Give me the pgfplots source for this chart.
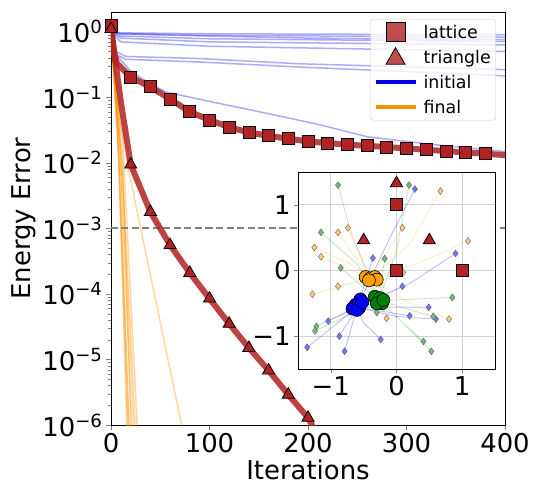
\documentclass[border=0pt]{standalone}
\usepackage{fontspec}
\setmainfont{DejaVu Sans}
\usepackage{pgfplots}
\pgfplotsset{compat=1.18}
\usetikzlibrary{calc}

\definecolor{latred}{RGB}{178,34,34}
\definecolor{ini}{RGB}{0,0,235}
\definecolor{fin}{RGB}{245,145,0}
\definecolor{icol}{RGB}{0,0,255}
\definecolor{gcol}{RGB}{0,128,0}
\definecolor{ocol}{RGB}{255,160,0}

\begin{document}
\begin{tikzpicture}
\begin{axis}[name=main, scale only axis, width=394bp, height=413bp,
  ymode=log, xmin=0, xmax=400, ymin=1e-6, ymax=2,
  xtick={0,100,200,300,400}, xticklabels={0,100,200,300,400},
  ytick={1e-6,1e-5,1e-4,1e-3,1e-2,1e-1,1},
  yticklabels={10\textsuperscript{−6},10\textsuperscript{−5},10\textsuperscript{−4},10\textsuperscript{−3},10\textsuperscript{−2},10\textsuperscript{−1},10\textsuperscript{0}},
  tick pos=left, tick align=outside, major tick length=5bp, minor tick length=3bp,
  xlabel={Iterations}, ylabel={Energy Error},
  label style={font=\fontsize{26}{30}\selectfont},
  tick label style={font=\fontsize{26}{30}\selectfont},
  legend cell align=left,
  legend style={at={(0.977,0.983)}, anchor=north east, draw=black!20, rounded corners=3bp,
    fill=white, fill opacity=0.8, draw opacity=1, text opacity=1,
    font=\fontsize{17.5}{20}\selectfont, row sep=5bp, inner xsep=3bp, inner ysep=3bp}]

% initial trajectories (blue)
\addplot[ini, opacity=0.33, line width=1.5bp, forget plot] coordinates {(0,1)(10,0.96)(100,0.93)(400,0.9)};
\addplot[ini, opacity=0.33, line width=1.5bp, forget plot] coordinates {(0,1)(10,0.94)(100,0.88)(400,0.83)};
\addplot[ini, opacity=0.33, line width=1.5bp, forget plot] coordinates {(0,1)(10,0.92)(100,0.86)(200,0.8)(400,0.76)};
\addplot[ini, opacity=0.33, line width=1.5bp, forget plot] coordinates {(0,1)(10,0.86)(100,0.78)(400,0.71)};
\addplot[ini, opacity=0.33, line width=1.5bp, forget plot] coordinates {(0,1)(10,0.8)(100,0.7)(400,0.63)};
\addplot[ini, opacity=0.33, line width=1.5bp, forget plot] coordinates {(0,1)(10,0.7)(100,0.6)(400,0.5)};
\addplot[ini, opacity=0.33, line width=1.5bp, forget plot] coordinates {(0,1)(5,0.5)(15,0.42)(90,0.39)(190,0.325)(400,0.264)};
\addplot[ini, opacity=0.33, line width=1.5bp, forget plot] coordinates {(0,1)(5,0.45)(15,0.38)(90,0.345)(190,0.29)(400,0.212)};
\addplot[ini, opacity=0.33, line width=1.5bp, forget plot] coordinates {(0,1)(5,0.45)(20,0.25)(40,0.16)(56,0.12)(90,0.093)(158,0.057)(209,0.039)(260,0.025)(327,0.019)(400,0.0149)};

% final trajectories (orange)
\addplot[fin, opacity=0.35, line width=1.5bp, forget plot] coordinates {(0,1)(8,1e-2)(18,1e-7)};
\addplot[fin, opacity=0.35, line width=1.5bp, forget plot] coordinates {(0,1)(10,5e-3)(20,1e-7)};
\addplot[fin, opacity=0.35, line width=1.5bp, forget plot] coordinates {(0,1)(12,1e-2)(22,1e-7)};
\addplot[fin, opacity=0.35, line width=1.5bp, forget plot] coordinates {(0,1)(9,2e-2)(24,1e-7)};
\addplot[fin, opacity=0.35, line width=1.5bp, forget plot] coordinates {(0,1)(11,1e-2)(26,1e-7)};
\addplot[fin, opacity=0.35, line width=1.5bp, forget plot] coordinates {(0,1)(13,3e-3)(28,1e-7)};
\addplot[fin, opacity=0.35, line width=1.5bp, forget plot] coordinates {(0,1)(7,3e-2)(19,1e-7)};
\addplot[fin, opacity=0.35, line width=1.5bp, forget plot] coordinates {(0,1)(12,2e-2)(30,1e-7)};
\addplot[fin, opacity=0.35, line width=1.5bp, forget plot] coordinates {(0,1)(6,5e-2)(21,1e-7)};
\addplot[fin, opacity=0.35, line width=1.5bp, forget plot] coordinates {(0,1)(5,0.1)(18,7.5e-3)(80,2.5e-7)};

% threshold
\addplot[black!50, dash pattern=on 7bp off 3.5bp, line width=1.8bp, forget plot] coordinates {(0,1e-3)(400,1e-3)};

% lattice
\addplot[latred, opacity=0.85, line width=6bp, forget plot] coordinates {(0,1.26)(3,0.5)(6,0.33)(20,0.204)(40,0.144)(60,0.094)(80,0.060)(100,0.045)(120,0.035)(140,0.029)(160,0.0258)(180,0.0233)(200,0.0212)(220,0.020)(240,0.0189)(260,0.0182)(280,0.0174)(300,0.0166)(320,0.0158)(340,0.0151)(360,0.0144)(380,0.0138)(400,0.0131)};
\addplot[only marks, mark=square*, mark size=6bp, mark options={fill=latred, draw=black, line width=0.8bp}, forget plot] coordinates {(0,1.26)(20,0.204)(40,0.144)(60,0.094)(80,0.060)(100,0.045)(120,0.035)(140,0.029)(160,0.0258)(180,0.0233)(200,0.0212)(220,0.020)(240,0.0189)(260,0.0182)(280,0.0174)(300,0.0166)(320,0.0158)(340,0.0151)(360,0.0144)(380,0.0138)};

% triangle
\addplot[latred, opacity=0.85, line width=6bp, forget plot] coordinates {(0,1.1)(10,0.085)(20,0.0094)(40,0.00178)(60,5.56e-4)(80,2.09e-4)(100,8.5e-5)(120,3.5e-5)(140,1.5e-5)(160,6.8e-6)(180,2.9e-6)(200,1.29e-6)(215,5e-7)};
\addplot[only marks, mark=triangle*, mark size=7bp, mark options={fill=latred, draw=black, line width=0.8bp}, forget plot] coordinates {(0,1.1)(20,0.0094)(40,0.00178)(60,5.56e-4)(80,2.09e-4)(100,8.5e-5)(120,3.5e-5)(140,1.5e-5)(160,6.8e-6)(180,2.9e-6)(200,1.29e-6)};

\addlegendimage{legend image code/.code={\path[draw=none, fill=none] (0bp,-10bp) rectangle (46bp,10bp); \draw[only marks, mark=square*, mark size=9.5bp, mark options={fill=latred, draw=black, line width=0.8bp}] plot coordinates {(20bp,0bp)};}}
\addlegendentry{lattice}
\addlegendimage{legend image code/.code={\path[draw=none, fill=none] (0bp,-10bp) rectangle (46bp,10bp); \draw[only marks, mark=triangle*, mark size=11bp, mark options={fill=latred, draw=black, line width=0.8bp}] plot coordinates {(20bp,-1.5bp)};}}
\addlegendentry{triangle}
\addlegendimage{legend image code/.code={\path[draw=none, fill=none] (0bp,-10bp) rectangle (46bp,10bp); \draw[ini, line width=4bp] (0bp,0bp) -- (40bp,0bp);}}
\addlegendentry{initial}
\addlegendimage{legend image code/.code={\path[draw=none, fill=none] (0bp,-10bp) rectangle (46bp,10bp); \draw[fin, line width=4bp] (0bp,0bp) -- (40bp,0bp);}}
\addlegendentry{final}
\end{axis}

\begin{axis}[at={($(main.south west)+(187bp,56bp)$)}, anchor=south west,
  scale only axis, width=197bp, height=197bp,
  xmin=-1.5, xmax=1.5, ymin=-1.5, ymax=1.5,
  xtick={-1,0,1}, ytick={-1,0,1},
  xticklabels={−1,0,1}, yticklabels={−1,0,1},
  grid=major, grid style={black!18, line width=0.8bp},
  axis background/.style={fill=white},
  tick pos=left, tick align=outside, major tick length=4bp,
  tick label style={font=\fontsize{26}{30}\selectfont},
  unbounded coords=jump]

% trajectories
\addplot[icol, opacity=0.28, line width=0.8bp] coordinates {(0.28,1.24)(-0.1,0.5)(-0.6,-0.56)(nan,nan)(-0.36,0.19)(-0.6,-0.56)(nan,nan)(0.90,0.26)(0.2,-0.2)(-0.6,-0.56)(nan,nan)(0.09,-0.24)(-0.6,-0.56)(nan,nan)(0.49,-0.56)(-0.6,-0.56)(nan,nan)(0.20,-0.69)(-0.6,-0.56)(nan,nan)(0.60,-0.74)(0,-0.7)(-0.6,-0.56)(nan,nan)(-1.04,-0.77)(-0.6,-0.56)(nan,nan)(-0.87,-1.0)(-0.6,-0.56)(nan,nan)(-0.24,-1.05)(-0.5,-0.8)(-0.6,-0.56)(nan,nan)(-1.36,-1.17)(-0.9,-0.8)(-0.6,-0.56)(nan,nan)(-0.79,-1.23)(-0.6,-0.56)};
\addplot[gcol, opacity=0.22, line width=0.8bp] coordinates {(-0.89,1.30)(-0.7,0.6)(-0.27,-0.46)(nan,nan)(0.19,1.30)(0,0.3)(-0.27,-0.46)(nan,nan)(-1.15,0.58)(-0.6,0.1)(-0.27,-0.46)(nan,nan)(-0.85,0.04)(-0.27,-0.46)(nan,nan)(-0.18,0.18)(-0.27,-0.46)(nan,nan)(0.85,-0.41)(-0.27,-0.46)(nan,nan)(0.56,-0.70)(-0.27,-0.46)(nan,nan)(-0.30,-0.64)(-0.27,-0.46)(nan,nan)(-1.22,-0.85)(-0.7,-0.6)(-0.27,-0.46)(nan,nan)(-1.24,-0.92)(-0.27,-0.46)(nan,nan)(0.41,-1.08)(-0.27,-0.46)(nan,nan)(0.53,-1.23)(0.1,-0.8)(-0.27,-0.46)};
\addplot[ocol, opacity=0.22, line width=0.8bp] coordinates {(0.67,1.21)(0.2,0.4)(-0.4,-0.12)(nan,nan)(-0.74,0.65)(-0.4,-0.12)(nan,nan)(-0.89,0.58)(-0.4,-0.12)(nan,nan)(0.09,0.65)(-0.4,-0.12)(nan,nan)(-1.25,0.35)(-0.7,0.1)(-0.4,-0.12)(nan,nan)(-1.15,0.21)(-0.4,-0.12)(nan,nan)(1.09,0.45)(0.3,0.1)(-0.4,-0.12)(nan,nan)(-0.89,-0.24)(-0.4,-0.12)(nan,nan)(-1.28,-0.36)(-0.4,-0.12)(nan,nan)(-0.15,-0.73)(-0.4,-0.12)(nan,nan)(0.80,-0.74)(0.2,-0.5)(-0.4,-0.12)(nan,nan)(0.10,-0.03)(-0.4,-0.12)};

% initial positions
\addplot[only marks, mark=diamond*, mark size=3.5bp, mark options={fill=icol!55, draw=black!60, line width=0.4bp}] coordinates {(0.28,1.24)(-0.36,0.19)(0.90,0.26)(0.09,-0.24)(0.49,-0.56)(0.20,-0.69)(0.60,-0.74)(-1.04,-0.77)(-0.87,-1.0)(-0.24,-1.05)(-1.36,-1.17)(-0.79,-1.23)};
\addplot[only marks, mark=diamond*, mark size=3.5bp, mark options={fill=gcol!55, draw=black!60, line width=0.4bp}] coordinates {(-0.89,1.30)(0.19,1.30)(-1.15,0.58)(-0.85,0.04)(-0.18,0.18)(0.85,-0.41)(0.56,-0.70)(-0.30,-0.64)(-1.22,-0.85)(-1.24,-0.92)(0.41,-1.08)(0.53,-1.23)};
\addplot[only marks, mark=diamond*, mark size=3.5bp, mark options={fill=ocol!55, draw=black!60, line width=0.4bp}] coordinates {(0.67,1.21)(-0.74,0.65)(-0.89,0.58)(0.09,0.65)(-1.25,0.35)(-1.15,0.21)(1.09,0.45)(-0.89,-0.24)(-1.28,-0.36)(-0.15,-0.73)(0.80,-0.74)(0.10,-0.03)};

% lattice sites
\addplot[only marks, mark=square*, mark size=6bp, mark options={fill=latred, draw=black, line width=0.8bp}] coordinates {(0,1)(0,0)(1,0)};
\addplot[only marks, mark=triangle*, mark size=7bp, mark options={fill=latred, draw=black, line width=0.8bp}] coordinates {(0,1.33)(-0.5,0.46)(0.5,0.46)};

% final positions
\addplot[only marks, mark=*, mark size=6.5bp, mark options={fill=ocol, draw=black, line width=0.6bp}] coordinates {(-0.47,-0.1)(-0.4,-0.12)(-0.33,-0.1)(-0.3,-0.14)(-0.42,-0.15)};
\addplot[only marks, mark=*, mark size=6.5bp, mark options={fill=gcol, draw=black, line width=0.6bp}] coordinates {(-0.33,-0.4)(-0.25,-0.42)(-0.22,-0.5)(-0.3,-0.5)(-0.2,-0.45)};
\addplot[only marks, mark=*, mark size=6.5bp, mark options={fill=icol, draw=black, line width=0.6bp}] coordinates {(-0.55,-0.44)(-0.62,-0.52)(-0.67,-0.58)(-0.57,-0.57)(-0.6,-0.6)(-0.52,-0.48)};
\end{axis}

\pgfresetboundingbox
\path ($(main.south west)+(-111bp,-62bp)$) rectangle ++(533bp,487bp);
\end{tikzpicture}
\end{document}
